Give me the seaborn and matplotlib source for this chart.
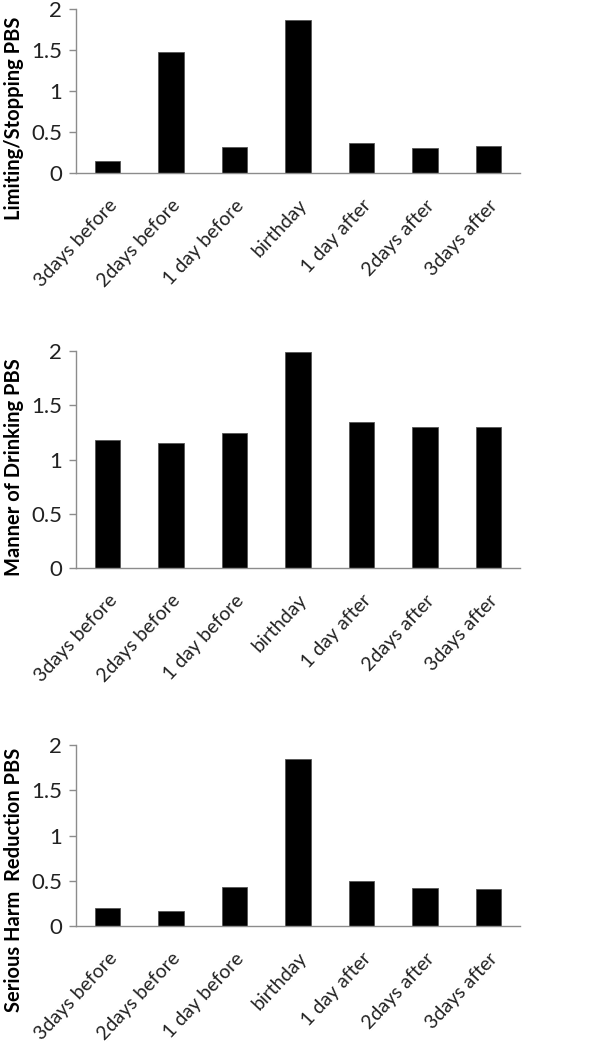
import numpy as np
import pandas as pd
import matplotlib
matplotlib.use("Agg")
import matplotlib.pyplot as plt
import seaborn as sns

days = ["3days before", "2days before", "1 day before", "birthday",
        "1 day after", "2days after", "3days after"]
limiting = [0.15, 1.47, 0.32, 1.86, 0.37, 0.31, 0.33]
manner = [1.18, 1.15, 1.24, 1.99, 1.35, 1.30, 1.30]
serious = [0.195, 0.17, 0.43, 1.845, 0.50, 0.415, 0.405]
ylabels = ["Limiting/Stopping PBS", "Manner of Drinking PBS", "Serious Harm  Reduction PBS"]
yticks = [0, 0.5, 1, 1.5, 2]
ytick_labels = ["0", "0.5", "1", "1.5", "2"]

sns.set_style("white")
plt.rcParams["font.family"] = ["Lato", "DejaVu Sans"]

fig = plt.figure(figsize=(6.05, 10.5), dpi=100)
W, H = 605, 1050
# axes boxes in pixels: (top, bottom) of the plot area
boxes = [(9, 173), (351, 568), (745, 926)]
label_centers = [118, 467, 880]
left, right = 76, 520
grey = "#8c8c8c"

for vals, lab, (top, bot), lc in zip([limiting, manner, serious], ylabels, boxes, label_centers):
    ax = fig.add_axes([left / W, 1 - bot / H, (right - left) / W, (bot - top) / H])
    df = pd.DataFrame({"day": days, "value": vals})
    sns.barplot(data=df, x="day", y="value", color="black", width=0.4,
                edgecolor="#555555", linewidth=0.6, saturation=1, ax=ax)
    ax.set_xlim(-0.5, 6.5)
    ax.set_ylim(0, 2)
    ax.set_yticks(yticks)
    ax.set_yticklabels(ytick_labels, fontsize=16, color="#222222")
    ax.set_xticks(range(len(days)))
    ax.set_xticklabels(days, rotation=47, ha="right", rotation_mode="anchor",
                       fontsize=14, color="#222222")
    ax.set_xticks(np.arange(-0.5, 7.0, 1.0), minor=True)
    ax.tick_params(axis="x", which="major", length=0, pad=17)
    ax.tick_params(axis="x", which="minor", length=5, width=1, color=grey, direction="out")
    ax.tick_params(axis="y", length=5, width=1, color=grey, direction="out", pad=5, left=True)
    for s in ["top", "right"]:
        ax.spines[s].set_visible(False)
    for s in ["left", "bottom"]:
        ax.spines[s].set_color(grey)
        ax.spines[s].set_linewidth(1)
    ax.set_xlabel("")
    ax.set_ylabel("")
    fig.text(14 / W, 1 - lc / H, lab, rotation=90, ha="center", va="center",
             fontsize=14.5, fontweight="bold", color="black")

fig.savefig("out.png", dpi=100)
